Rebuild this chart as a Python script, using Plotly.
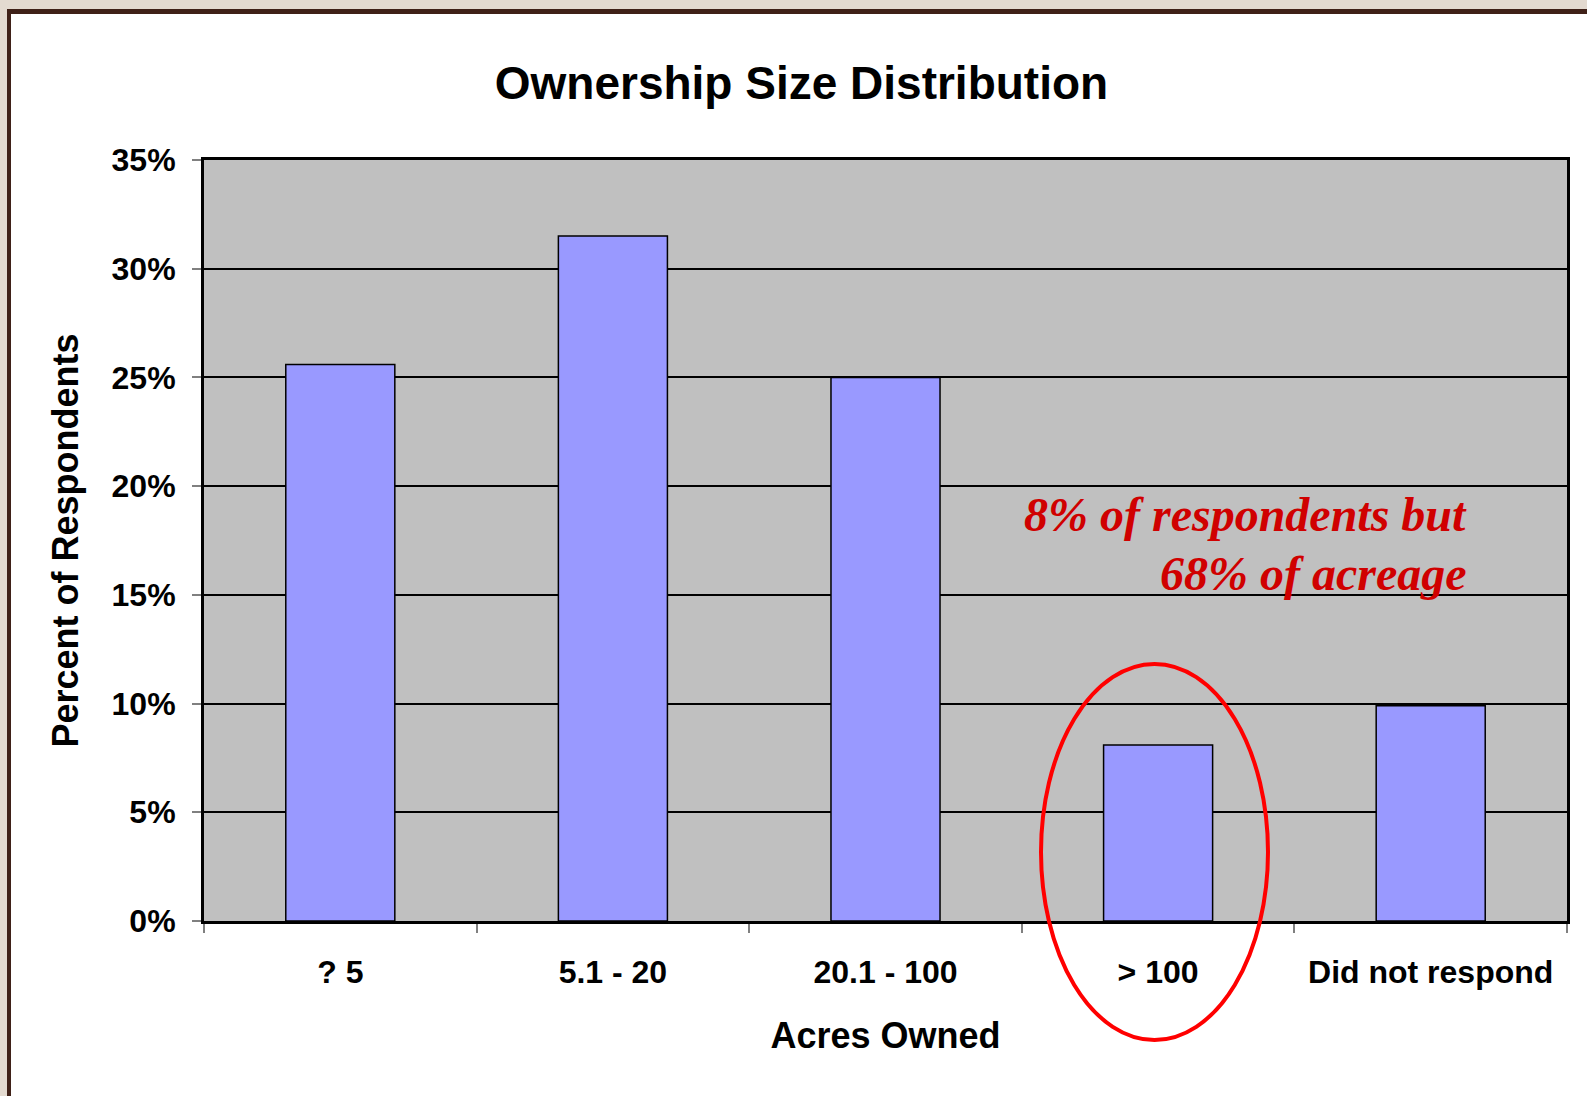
import plotly.graph_objects as go

# values
categories = ["? 5", "5.1 - 20", "20.1 - 100", "> 100", "Did not respond"]
percent = [25.6, 31.5, 25.0, 8.1, 9.9]
y_ticks = [0, 5, 10, 15, 20, 25, 30, 35]
y_tick_text = [f"{v}%" for v in y_ticks]
note_lines = ["8% of respondents but", "68% of acreage"]

W, H = 1587, 1096
L, R, T, B = 204, 20, 160, 175
PW, PH = W - L - R, H - T - B


def px(x):
    return (x - L) / PW


def py(y):
    return (H - B - y) / PH


def rect(x0, y0, x1, y1, color, **kw):
    return dict(type="rect", xref="paper", yref="paper",
                x0=px(x0), x1=px(x1), y0=py(y1), y1=py(y0),
                fillcolor=color, line=dict(width=0), layer="below", **kw)


sans = "Arial, Liberation Sans, sans-serif"
serif = "Times New Roman, Liberation Serif, serif"

fig = go.Figure()
fig.add_trace(go.Bar(
    x=categories, y=percent,
    marker=dict(color="#9999FF", line=dict(color="black", width=1.5)),
    width=0.4,
))

shapes = [
    # page frame: beige strip and dark brown line on top / left
    rect(0, 0, W, 9, "#E3DAD0"),
    rect(0, 0, 7, H, "#E3DAD0"),
    rect(7, 9, W, 14, "#3F2118"),
    rect(7, 9, 11, H, "#3F2118"),
    # red ellipse around the "> 100" bar
    dict(type="circle", xref="paper", yref="paper",
         x0=px(1041), x1=px(1268), y0=py(1040), y1=py(664),
         line=dict(color="#FF0000", width=4), layer="above"),
]

notes = []
for line, ypix in zip(note_lines, [514, 573]):
    notes.append(dict(
        text=line, xref="paper", yref="paper",
        x=px(1469), y=py(ypix), xanchor="right", yanchor="middle",
        showarrow=False,
        font=dict(family=serif, size=48, color="#D00000", weight="bold", style="italic"),
    ))

fig.update_layout(
    width=W, height=H,
    margin=dict(l=L, r=R, t=T, b=B),
    paper_bgcolor="white",
    plot_bgcolor="#C0C0C0",
    showlegend=False,
    bargap=0.6,
    shapes=shapes,
    annotations=notes,
    title=dict(text="Ownership Size Distribution",
               font=dict(family=sans, size=46, color="black", weight="bold"),
               x=0.505, xanchor="center", y=1 - 83 / H, yanchor="middle"),
)

fig.update_xaxes(
    type="category",
    showline=True, linecolor="black", linewidth=3, mirror=True,
    ticks="outside", tickson="boundaries", ticklen=9, tickcolor="#808080", tickwidth=1.5,
    ticklabelstandoff=21,
    tickfont=dict(family=sans, size=32, color="black", weight="bold"),
    title=dict(text="Acres Owned", standoff=34,
               font=dict(family=sans, size=36, color="black", weight="bold")),
)
fig.update_yaxes(
    range=[0, 35], tickvals=y_ticks, ticktext=y_tick_text,
    showgrid=True, gridcolor="black", gridwidth=1.5,
    showline=True, linecolor="black", linewidth=3, mirror=True,
    ticks="outside", ticklen=9, tickcolor="#808080", tickwidth=1.5,
    ticklabelstandoff=10,
    tickfont=dict(family=sans, size=32, color="black", weight="bold"),
    title=dict(text="Percent of Respondents", standoff=22,
               font=dict(family=sans, size=36, color="black", weight="bold")),
    zeroline=False,
)

# drop the browser's default 8px body margin so the figure sits at the page corner
fig.write_html("out.html", config={"displayModeBar": False},
               post_script="document.body.style.margin = '0';")
